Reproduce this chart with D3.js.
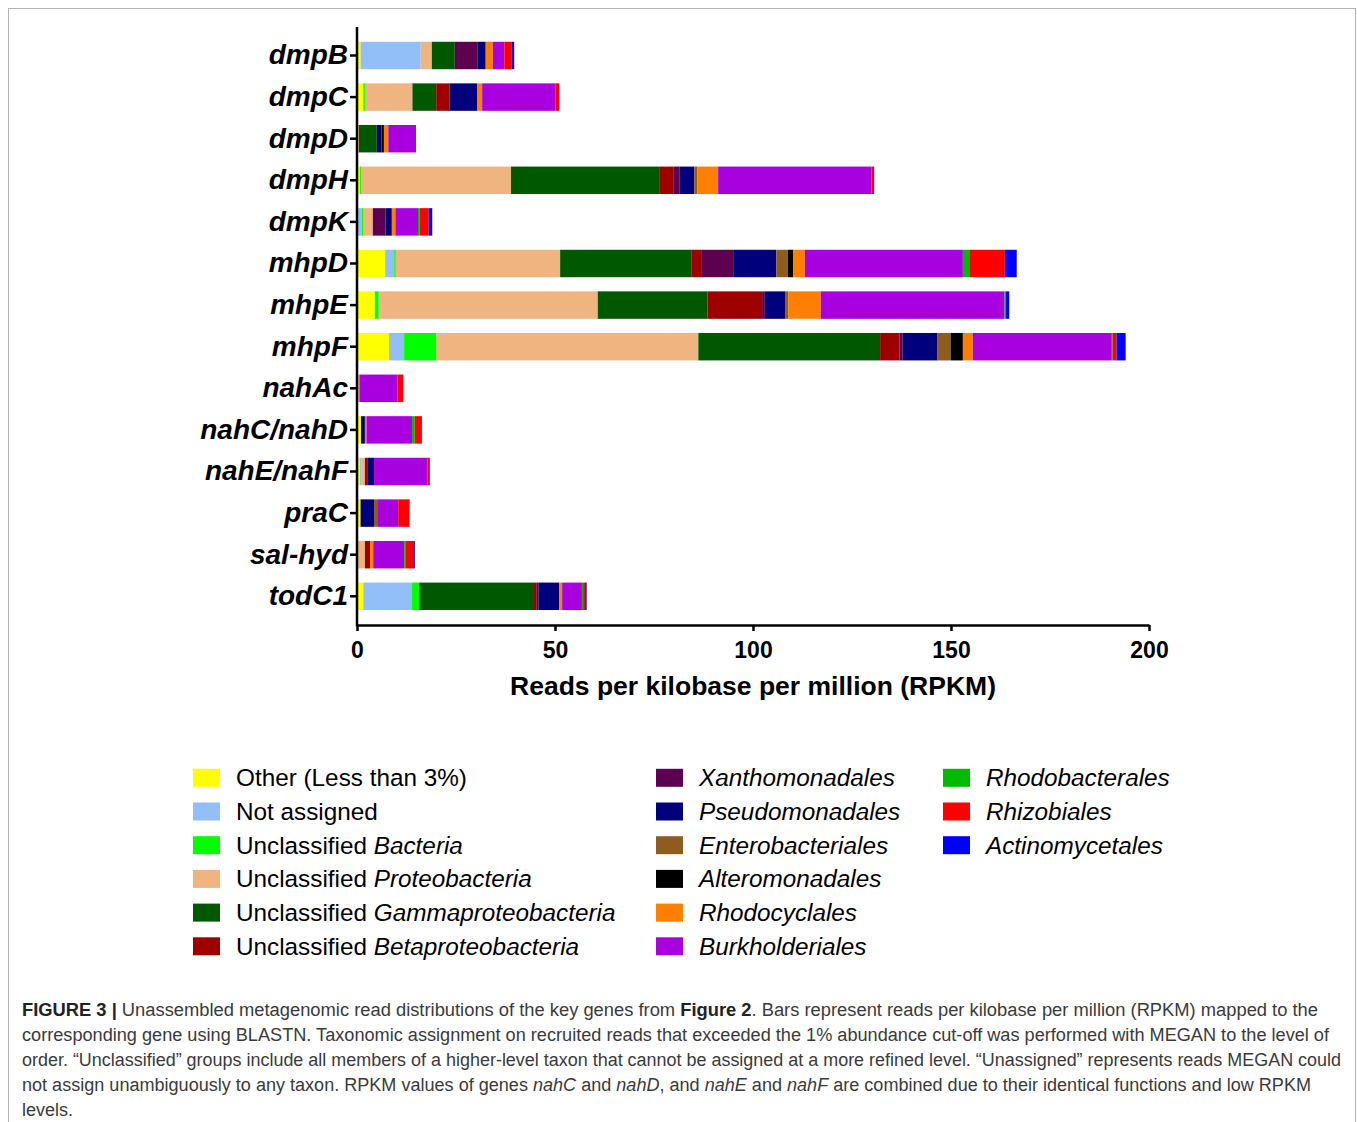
<!DOCTYPE html>
<html><head><meta charset="utf-8">
<script src="https://cdn.jsdelivr.net/npm/d3@7"></script>
<style>body{margin:0;background:#fff} svg{display:block}</style>
</head><body><svg id="c" width="1357" height="1122"></svg>
<script>
// ---------- DATA ----------
const categories = ["dmpB","dmpC","dmpD","dmpH","dmpK","mhpD","mhpE","mhpF","nahAc","nahC/nahD","nahE/nahF","praC","sal-hyd","todC1"];

const seriesKeys = ["Other","Not assigned","Unclassified Bacteria","Unclassified Proteobacteria","Unclassified Gammaproteobacteria","Unclassified Betaproteobacteria","Xanthomonadales","Pseudomonadales","Enterobacteriales","Alteromonadales","Rhodocyclales","Burkholderiales","Rhodobacterales","Rhizobiales","Actinomycetales"];

//                         dmpB dmpC dmpD dmpH dmpK mhpD mhpE mhpF nahAc nahCD nahEF praC salhyd todC1
const otherLess3        = [0.9, 1.6, 0,   0.75,0,   7.1, 4.5, 8.1, 0,    1.0,  0.75, 0.9, 0,     1.6];
const notAssigned       = [15.2,0,   0,   0,   1.2, 2.3, 0,   3.8, 0,    0,    0.35, 0,   0,     12.3];
const unclBacteria      = [0,   0.4, 0,   0.25,0.4, 0.4, 1.0, 8.2, 0,    0,    0,    0,   0,     1.8];
const unclProteo        = [2.8, 12.0,0.5, 37.9,2.4, 41.5,55.3,66.1,0.6,  0,    0.9,  0,   2.0,   0];
const unclGamma         = [5.8, 6.0, 4.5, 37.4,0,   33.1,27.7,45.9,0,    0,    0,    0,   0,     29.0];
const unclBeta          = [0,   3.4, 0,   3.7, 0,   2.5, 13.8,4.9, 0,    0,    0.6,  0,   1.3,   0.7];
const xanthomonadales   = [5.8, 0,   0,   1.4, 3.2, 8.1, 0.7, 0.8, 0,    0,    0,    0,   0,     0.4];
const pseudomonadales   = [2.0, 6.9, 1.2, 3.8, 1.6, 10.9,5.1, 8.8, 0,    1.0,  1.7,  3.4, 0,     5.3];
const enterobacteriales = [0,   0,   0,   0.7, 0,   2.9, 0.8, 3.3, 0,    0,    0,    1.0, 0,     0];
const alteromonadales   = [0,   0,   0.6, 0,   0,   1.4, 0,   3.1, 0,    0,    0,    0,   0,     0];
const rhodocyclales     = [1.8, 1.3, 1.1, 5.3, 0.9, 2.9, 8.2, 2.5, 0,    0.4,  0,    0,   0.8,   0.7];
const burkholderiales   = [2.9, 18.5,7.0, 38.7,5.7, 39.9,46.4,34.9,9.6,  11.5, 13.5, 5.1, 7.8,   5.0];
const rhodobacterales   = [0,   0,   0,   0,   0.4, 1.6, 0.4, 0.4, 0,    0.7,  0,    0,   0.3,   0.3];
const rhizobiales       = [1.9, 1.0, 0,   0.7, 2.3, 9.0, 0,   1.0, 1.5,  1.8,  0.6,  2.9, 2.0,   0.5];
const actinomycetales   = [0.6, 0,   0,   0,   0.9, 3.0, 0.8, 2.3, 0,    0,    0,    0,   0.4,   0.4];

const seriesValues = [otherLess3, notAssigned, unclBacteria, unclProteo, unclGamma, unclBeta,
  xanthomonadales, pseudomonadales, enterobacteriales, alteromonadales, rhodocyclales,
  burkholderiales, rhodobacterales, rhizobiales, actinomycetales];

const seriesColors = ["#FFFF00","#92BFF7","#00FF00","#EFB47F","#005800","#9E0000","#5E0050","#00007C","#8E5D1E","#000000","#FF8000","#A800DE","#00BB00","#FF0000","#0000FF"];

// legend labels: [upright part, italic part]
const legendLabels = [
  ["Other (Less than 3%)",""],["Not assigned",""],["Unclassified ","Bacteria"],
  ["Unclassified ","Proteobacteria"],["Unclassified ","Gammaproteobacteria"],["Unclassified ","Betaproteobacteria"],
  ["","Xanthomonadales"],["","Pseudomonadales"],["","Enterobacteriales"],["","Alteromonadales"],
  ["","Rhodocyclales"],["","Burkholderiales"],["","Rhodobacterales"],["","Rhizobiales"],["","Actinomycetales"]
];
const xTicks = [0,50,100,150,200];
const xTitle = "Reads per kilobase per million (RPKM)";

// ---------- CHART ----------
const svg = d3.select("#c");
svg.append("rect").attr("x",8.5).attr("y",8.5).attr("width",1347).attr("height",1130)
  .attr("fill","none").attr("stroke","#b5b5b5").attr("stroke-width",1);

const x = d3.scaleLinear().domain([0,200]).range([357,1149]);
const y = d3.scaleBand().domain(categories).range([34.7,617.1]).paddingInner(0.34).paddingOuter(0.17);

const table = categories.map((c,i)=>{
  const row = {cat:c};
  seriesKeys.forEach((k,j)=>row[k]=seriesValues[j][i]);
  return row;
});
const stacked = d3.stack().keys(seriesKeys)(table);

const g = svg.append("g");
g.selectAll("g.series").data(stacked).join("g").attr("class","series")
  .attr("fill",(d,i)=>seriesColors[i])
  .selectAll("rect").data(d=>d).join("rect")
  .attr("x",d=>x(d[0])).attr("width",d=>Math.max(0,x(d[1])-x(d[0])))
  .attr("y",d=>y(d.data.cat)).attr("height",y.bandwidth());

// x axis
const xAxis = svg.append("g").attr("transform","translate(0,625)")
  .call(d3.axisBottom(x).tickValues(xTicks).tickSize(6).tickSizeOuter(0).tickPadding(11));
xAxis.select(".domain").attr("stroke","#000").attr("stroke-width",2.5);
xAxis.selectAll(".tick line").attr("stroke","#000").attr("stroke-width",2.5);
xAxis.selectAll(".tick text").attr("font-family","'Liberation Sans', Arial, sans-serif")
  .attr("font-weight","bold").attr("font-size",23).attr("fill","#000");

// y axis
svg.append("line").attr("x1",357).attr("x2",357).attr("y1",27).attr("y2",626.2)
  .attr("stroke","#000").attr("stroke-width",2.5);
const yAxis = svg.append("g").attr("transform","translate(357,0)")
  .call(d3.axisLeft(y).tickSize(7).tickSizeOuter(0).tickPadding(2));
yAxis.select(".domain").remove();
yAxis.selectAll(".tick line").attr("stroke","#000").attr("stroke-width",2.5);
yAxis.selectAll(".tick text").attr("font-family","'Liberation Sans', Arial, sans-serif")
  .attr("font-weight","bold").attr("font-style","italic").attr("font-size",28).attr("fill","#000");

svg.append("text").attr("x",753).attr("y",695).attr("text-anchor","middle")
  .attr("font-family","'Liberation Sans', Arial, sans-serif").attr("font-weight","bold")
  .attr("font-size",26.5).text(xTitle);

// legend
const legCols = [{sx:193,tx:236},{sx:656,tx:699},{sx:943,tx:986}];
const legIdx = (i)=> i<6 ? [0,i] : (i<12 ? [1,i-6] : [2,i-12]);
const leg = svg.append("g").attr("font-family","'Liberation Sans', Arial, sans-serif").attr("font-size",24.3);
legendLabels.forEach((lab,i)=>{
  const [c,r] = legIdx(i);
  const cy = 777.8 + r*33.7;
  leg.append("rect").attr("x",legCols[c].sx).attr("y",cy-9).attr("width",27).attr("height",18)
    .attr("fill",seriesColors[i]);
  const t = leg.append("text").attr("x",legCols[c].tx).attr("y",cy+8.5).attr("fill","#000");
  if(lab[0]) t.append("tspan").text(lab[0]);
  if(lab[1]) t.append("tspan").attr("font-style","italic").text(lab[1]);
});

// caption
const cap = svg.append("g").attr("font-family","'Liberation Sans Narrow','Liberation Sans', Arial, sans-serif")
  .attr("font-size",18).attr("fill","#3a3a3a");
const capLines = [
  {w:1296, parts:[["FIGURE 3 |","b"],[" Unassembled metagenomic read distributions of the key genes from ",""],["Figure 2","b"],[". Bars represent reads per kilobase per million (RPKM) mapped to the",""]]},
  {w:1307, parts:[["corresponding gene using BLASTN. Taxonomic assignment on recruited reads that exceeded the 1% abundance cut-off was performed with MEGAN to the level of",""]]},
  {w:1319, parts:[["order. \u201cUnclassified\u201d groups include all members of a higher-level taxon that cannot be assigned at a more refined level. \u201cUnassigned\u201d represents reads MEGAN could",""]]},
  {w:1289, parts:[["not assign unambiguously to any taxon. RPKM values of genes ",""],["nahC","i"],[" and ",""],["nahD","i"],[", and ",""],["nahE","i"],[" and ",""],["nahF","i"],[" are combined due to their identical functions and low RPKM",""]]},
  {w:null, parts:[["levels.",""]]}
];
capLines.forEach((ln,i)=>{
  const t = cap.append("text").attr("x",22).attr("y",1016+i*25);
  if(ln.w) t.attr("textLength",ln.w).attr("lengthAdjust","spacingAndGlyphs");
  ln.parts.forEach(p=>{
    const s = t.append("tspan").text(p[0]);
    if(p[1]==="b") s.attr("font-weight","bold").attr("fill","#222");
    if(p[1]==="i") s.attr("font-style","italic");
  });
});
</script></body></html>
